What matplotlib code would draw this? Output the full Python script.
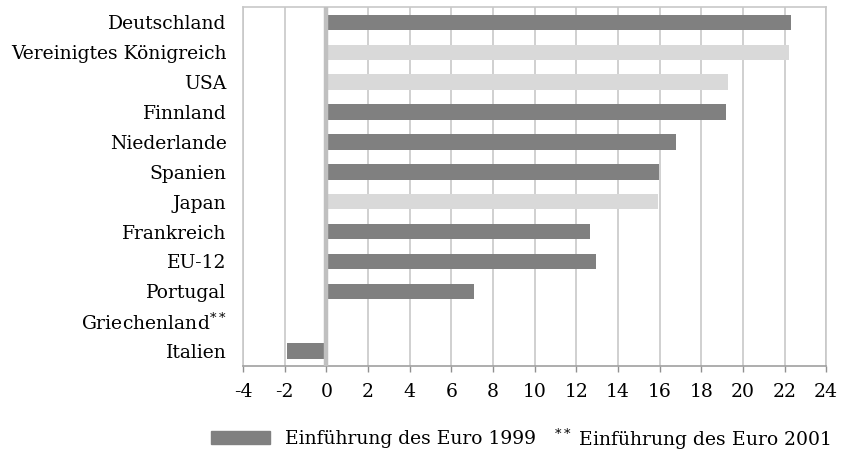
import matplotlib
matplotlib.use("Agg")
import matplotlib.pyplot as plt
from matplotlib.patches import Patch

laender = ["Deutschland", "Vereinigtes Königreich", "USA", "Finnland", "Niederlande",
           "Spanien", "Japan", "Frankreich", "EU-12", "Portugal",
           r"Griechenland$^{**}$", "Italien"]
werte = [22.3, 22.2, 19.3, 19.2, 16.8, 15.95, 15.9, 12.65, 12.95, 7.1, 0.0, -1.9]
euro_1999 = [True, False, False, True, True, True, False, True, True, True, True, True]
xticks = list(range(-4, 25, 2))

dunkel = "#808080"
hell = "#d9d9d9"
fs = 13.5

plt.rcParams["font.family"] = ["DejaVu Serif"]
plt.rcParams["mathtext.fontset"] = "custom"
plt.rcParams["mathtext.rm"] = "DejaVu Serif"

fig = plt.figure(figsize=(8.43, 4.55), dpi=100)
ax = fig.add_axes([0.2885, 0.1956, 0.6915, 0.788])

y = list(range(len(laender)))
farben = [dunkel if e else hell for e in euro_1999]
ax.barh(y, werte, height=0.52, color=farben, zorder=2)
ax.axvline(0, color="#c0c0c0", lw=3.2, zorder=3)

ax.set_ylim(len(laender) - 0.5, -0.5)
ax.set_xlim(-4, 24)
ax.set_xticks(xticks)
ax.set_xticklabels([str(t) for t in xticks], fontsize=fs)
ax.set_yticks(y)
ax.set_yticklabels(laender, fontsize=fs)
ax.tick_params(axis="y", length=0, pad=12)
ax.tick_params(axis="x", length=4, color="#909090", width=1, pad=8)
ax.grid(axis="x", color="#c8c8c8", lw=1.2, zorder=0)
ax.set_axisbelow(True)
for side in ["top", "right", "left"]:
    ax.spines[side].set_color("#c8c8c8")
    ax.spines[side].set_linewidth(1.2)
ax.spines["bottom"].set_color("#a0a0a0")
ax.spines["bottom"].set_linewidth(1.2)

fig.legend(handles=[Patch(color=dunkel, label="Einführung des Euro 1999")],
           loc="center left", bbox_to_anchor=(0.25, 0.035), frameon=False,
           fontsize=fs, handlelength=59 / 18.75, handleheight=13 / 18.75,
           handletextpad=15 / 18.75, borderpad=0, borderaxespad=0)
fig.text(0.657, 0.035, r"$^{**}$ Einführung des Euro 2001", fontsize=fs,
         va="center", ha="left")

fig.savefig("out.png", dpi=100)
